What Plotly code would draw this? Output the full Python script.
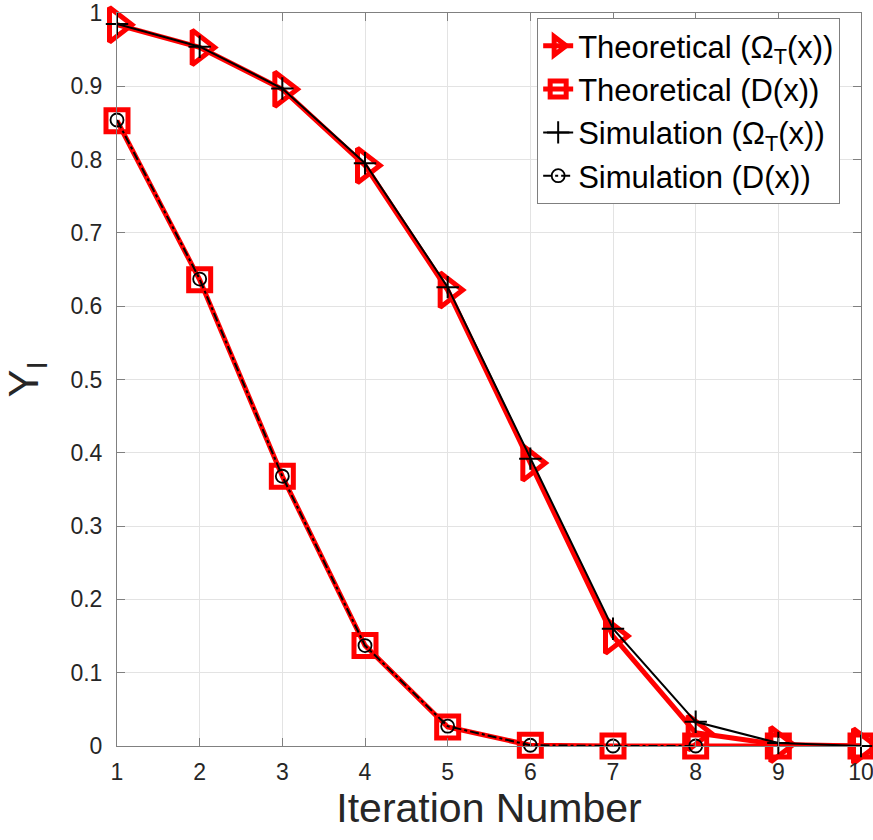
import plotly.graph_objects as go

iterations = [1, 2, 3, 4, 5, 6, 7, 8, 9, 10]
theo_omega = [0.984, 0.953, 0.896, 0.792, 0.622, 0.386, 0.150, 0.018, 0.002, 0.0]
theo_d = [0.853, 0.636, 0.368, 0.137, 0.026, 0.001, 0.0, 0.0, 0.0, 0.0]
sim_omega = [0.985, 0.954, 0.897, 0.795, 0.626, 0.392, 0.160, 0.033, 0.004, 0.0]
sim_iter_d = [1, 2, 3, 4, 5, 6, 7, 8]
sim_d = [0.854, 0.637, 0.368, 0.137, 0.027, 0.001, 0.0, 0.0]
y_ticks = [0, 0.1, 0.2, 0.3, 0.4, 0.5, 0.6, 0.7, 0.8, 0.9, 1]
y_ticktext = ["0", "0.1", "0.2", "0.3", "0.4", "0.5", "0.6", "0.7", "0.8", "0.9", "1"]

FONT = "Liberation Sans, Arial"

fig = go.Figure()
fig.add_trace(go.Scatter(
    x=iterations, y=theo_omega, mode="lines+markers",
    name="Theoretical (Ω<sub>T</sub>(x))", cliponaxis=False,
    line=dict(color="#ff0000", width=5),
    marker=dict(symbol="triangle-right-open", size=30, color="#ff0000",
                line=dict(width=5, color="#ff0000")),
))
fig.add_trace(go.Scatter(
    x=iterations, y=theo_d, mode="lines+markers",
    name="Theoretical (D(x))", cliponaxis=False,
    line=dict(color="#ff0000", width=5),
    marker=dict(symbol="square-open", size=22, color="#ff0000",
                line=dict(width=5, color="#ff0000")),
))
fig.add_trace(go.Scatter(
    x=iterations, y=sim_omega, mode="lines+markers",
    name="Simulation (Ω<sub>T</sub>(x))", cliponaxis=False,
    line=dict(color="#000000", width=2),
    marker=dict(symbol="cross-thin-open", size=16, color="#000000",
                line=dict(width=2, color="#000000")),
))
fig.add_trace(go.Scatter(
    x=sim_iter_d, y=sim_d, mode="lines+markers",
    name="Simulation (D(x))", cliponaxis=False,
    line=dict(color="#000000", width=2, dash="dashdot"),
    marker=dict(symbol="circle-open", size=13, color="#000000",
                line=dict(width=1.8, color="#000000")),
))

axis_common = dict(
    showline=True, linecolor="#808080", linewidth=1, mirror="ticks",
    ticks="inside", ticklen=8, tickcolor="#808080",
    showgrid=True, gridcolor="#e3e3e3", gridwidth=1,
    zeroline=False, automargin=False, ticklabeloverflow="allow",
    tickfont=dict(family=FONT, size=23, color="#262626"),
)

fig.update_xaxes(range=[1, 10], tickvals=iterations, ticklabelstandoff=5,
                 title=dict(text="Iteration Number",
                            font=dict(family=FONT, size=41, color="#262626"),
                            standoff=6),
                 **axis_common)
fig.update_yaxes(range=[0, 1], tickvals=y_ticks, ticktext=y_ticktext,
                 ticklabelstandoff=9,
                 title=dict(text="Y<sub>I</sub>",
                            font=dict(family=FONT, size=42, color="#262626"),
                            standoff=18),
                 **axis_common)

fig.update_layout(
    width=873, height=840,
    margin=dict(l=117, r=12, t=13, b=94),
    plot_bgcolor="white", paper_bgcolor="white",
    showlegend=True,
    legend=dict(x=0.972, y=0.993, xanchor="right", yanchor="top",
                bgcolor="white", bordercolor="#7f7f7f", borderwidth=1,
                font=dict(family=FONT, size=31, color="#000000"),
                itemwidth=30, tracegroupgap=0),
)

fig.write_html("out.html", config={"displayModeBar": False},
               post_script="document.body.style.margin='0';")
